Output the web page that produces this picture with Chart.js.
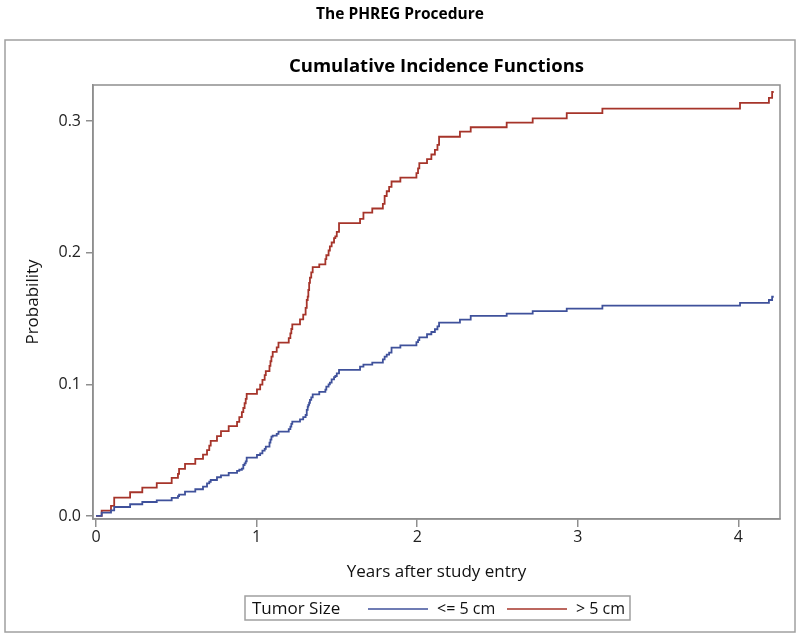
<!DOCTYPE html>
<html lang="en">
  <head>
    <meta charset="UTF-8">
    <script src="https://cdn.jsdelivr.net/npm/chart.js"></script>
    <style>
      html, body { margin: 0; padding: 0; background: #fff; }
      #cifChart { display: block; }
    </style>
  </head>
  <body>
    <canvas id="cifChart" width="800" height="639"></canvas>

    <script>
      // event times (years after study entry), shared by both curves
      const times = [
        0, 0.035, 0.093, 0.113, 0.212, 0.288, 0.378, 0.471, 0.510, 0.517,
        0.554, 0.618, 0.666, 0.691, 0.705, 0.714, 0.753, 0.778, 0.826, 0.878,
        0.892, 0.908, 0.917, 0.925, 0.932, 0.938, 1.002, 1.022, 1.036, 1.050,
        1.057, 1.080, 1.086, 1.092, 1.100, 1.125, 1.136, 1.200, 1.210, 1.216,
        1.222, 1.270, 1.290, 1.305, 1.312, 1.318, 1.322, 1.327, 1.332, 1.340,
        1.349, 1.390, 1.428, 1.434, 1.448, 1.456, 1.467, 1.482, 1.490, 1.499,
        1.513, 1.644, 1.665, 1.720, 1.786, 1.797, 1.810, 1.825, 1.840, 1.895,
        1.995, 2.005, 2.013, 2.061, 2.088, 2.110, 2.126, 2.136, 2.266, 2.333,
        2.557, 2.719, 2.931, 3.153, 4.010, 4.190, 4.210, 4.220
      ];
      // Tumor Size <= 5 cm
      const cifSmall = [
        0, 0.0025, 0.0043, 0.0068, 0.0089, 0.0106, 0.0119, 0.0137, 0.0150, 0.0162,
        0.0185, 0.0203, 0.0223, 0.0248, 0.0260, 0.0273, 0.0294, 0.0309, 0.0327, 0.0342,
        0.0351, 0.0360, 0.0387, 0.0400, 0.0415, 0.0443, 0.0463, 0.0476, 0.0496, 0.0510,
        0.0527, 0.0557, 0.0580, 0.0602, 0.0610, 0.0623, 0.0640, 0.0660, 0.0678, 0.0700,
        0.0716, 0.0734, 0.0750, 0.0767, 0.0805, 0.0830, 0.0843, 0.0860, 0.0881, 0.0900,
        0.0924, 0.0942, 0.0960, 0.0982, 0.1000, 0.1012, 0.1038, 0.1055, 0.1063, 0.1083,
        0.1109, 0.1134, 0.1149, 0.1164, 0.1190, 0.1210, 0.1225, 0.1240, 0.1278, 0.1295,
        0.1320, 0.1335, 0.1357, 0.1380, 0.1397, 0.1418, 0.1440, 0.1468, 0.1491, 0.1519,
        0.1536, 0.1555, 0.1574, 0.1597, 0.1618, 0.1640, 0.1665, 0.1665
      ];
      // Tumor Size > 5 cm
      const cifLarge = [
        0, 0.0040, 0.0076, 0.0140, 0.0180, 0.0215, 0.0250, 0.0289, 0.0320, 0.0357,
        0.0395, 0.0433, 0.0466, 0.0500, 0.0535, 0.0570, 0.0606, 0.0644, 0.0682, 0.0714,
        0.0750, 0.0788, 0.0820, 0.0856, 0.0890, 0.0927, 0.0962, 0.0997, 0.1033, 0.1070,
        0.1100, 0.1140, 0.1175, 0.1210, 0.1246, 0.1280, 0.1316, 0.1350, 0.1387, 0.1420,
        0.1455, 0.1493, 0.1529, 0.1580, 0.1640, 0.1666, 0.1716, 0.1770, 0.1810, 0.1850,
        0.1890, 0.1910, 0.1950, 0.1980, 0.2016, 0.2047, 0.2077, 0.2110, 0.2123, 0.2157,
        0.2224, 0.2256, 0.2304, 0.2335, 0.2370, 0.2430, 0.2466, 0.2500, 0.2540, 0.2570,
        0.2603, 0.2640, 0.2680, 0.2710, 0.2745, 0.2780, 0.2818, 0.2880, 0.2919, 0.2952,
        0.2987, 0.3020, 0.3060, 0.3094, 0.3137, 0.3175, 0.3220, 0.3220
      ];
      const xTicks = [0, 1, 2, 3, 4];
      const yTicks = [0, 0.1, 0.2, 0.3];
      const seriesLabels = ['<= 5 cm', '> 5 cm'];
      const legendTitle = 'Tumor Size';

      const FONT = '"Open Sans", "DejaVu Sans", sans-serif';
      const frameColor = '#8f8f8f';
      const blue = '#3f519b';
      const red = '#a6342a';

      const toPoints = vals => times.map((t, i) => ({ x: t, y: vals[i] }));

      // titles, frame, outer border and the boxed legend
      const decorPlugin = {
        id: 'decor',
        afterDraw(chart) {
          const c = chart.ctx;
          const a = chart.chartArea;
          c.save();
          c.strokeStyle = frameColor;
          c.lineWidth = 1.5;
          c.strokeRect(a.left, a.top, a.right - a.left, a.bottom - a.top);
          c.strokeStyle = '#a0a0a0';
          c.strokeRect(5, 40, 790, 592);

          c.fillStyle = '#000';
          c.textAlign = 'center';
          c.textBaseline = 'middle';
          c.font = 'bold 15.5px ' + FONT;
          c.fillText('The PHREG Procedure', 400, 15);
          c.font = 'bold 18.5px ' + FONT;
          c.fillText('Cumulative Incidence Functions', (a.left + a.right) / 2, 67);

          // legend
          const ly = 609;
          c.strokeStyle = '#a0a0a0';
          c.lineWidth = 1.5;
          c.strokeRect(245, 596, 385, 24);
          c.textAlign = 'left';
          c.font = '17px ' + FONT;
          c.fillStyle = '#111';
          c.fillText(legendTitle, 252, ly);
          c.font = '16px ' + FONT;
          const items = [
            { color: blue, x: 368, label: seriesLabels[0] },
            { color: red, x: 507, label: seriesLabels[1] }
          ];
          items.forEach(it => {
            c.strokeStyle = it.color;
            c.lineWidth = 1.5;
            c.beginPath();
            c.moveTo(it.x, ly);
            c.lineTo(it.x + 60, ly);
            c.stroke();
            c.fillText(it.label, it.x + 69, ly);
          });
          c.restore();
        }
      };

      const ctx = document.getElementById('cifChart').getContext('2d');
      new Chart(ctx, {
        type: 'line',
        data: {
          datasets: [
            {
              label: seriesLabels[0],
              data: toPoints(cifSmall),
              borderColor: blue,
              borderWidth: 1.8,
              stepped: 'before',
              pointRadius: 0,
              fill: false
            },
            {
              label: seriesLabels[1],
              data: toPoints(cifLarge),
              borderColor: red,
              borderWidth: 1.8,
              stepped: 'before',
              pointRadius: 0,
              fill: false
            }
          ]
        },
        options: {
          responsive: false,
          animation: false,
          devicePixelRatio: 1,
          layout: { padding: { left: 23, right: 20, top: 85, bottom: 57 } },
          plugins: {
            legend: { display: false },
            tooltip: { enabled: false }
          },
          scales: {
            x: {
              type: 'linear',
              min: -0.019,
              max: 4.259,
              afterBuildTicks: s => { s.ticks = xTicks.map(v => ({ value: v })); },
              afterFit: s => { s.height = 63; },
              ticks: {
                font: { family: FONT, size: 16 },
                color: '#222',
                padding: 1,
                maxRotation: 0,
                callback: v => String(v)
              },
              grid: { drawOnChartArea: false, tickLength: 8, color: frameColor, lineWidth: 1.5 },
              border: { color: frameColor, width: 1.5 },
              title: {
                display: true,
                text: 'Years after study entry',
                font: { family: FONT, size: 17 },
                color: '#111',
                padding: 0
              }
            },
            y: {
              type: 'linear',
              min: -0.0023,
              max: 0.3273,
              afterBuildTicks: s => { s.ticks = yTicks.map(v => ({ value: v })); },
              afterFit: s => { s.width = 70; },
              ticks: {
                font: { family: FONT, size: 16 },
                color: '#222',
                padding: 5,
                callback: v => v.toFixed(1)
              },
              grid: { drawOnChartArea: false, tickLength: 7, color: frameColor, lineWidth: 1.5 },
              border: { color: frameColor, width: 1.5 },
              title: {
                display: true,
                text: 'Probability',
                font: { family: FONT, size: 17 },
                color: '#111',
                padding: 0
              }
            }
          }
        },
        plugins: [decorPlugin]
      });
    </script>
  </body>
</html>
